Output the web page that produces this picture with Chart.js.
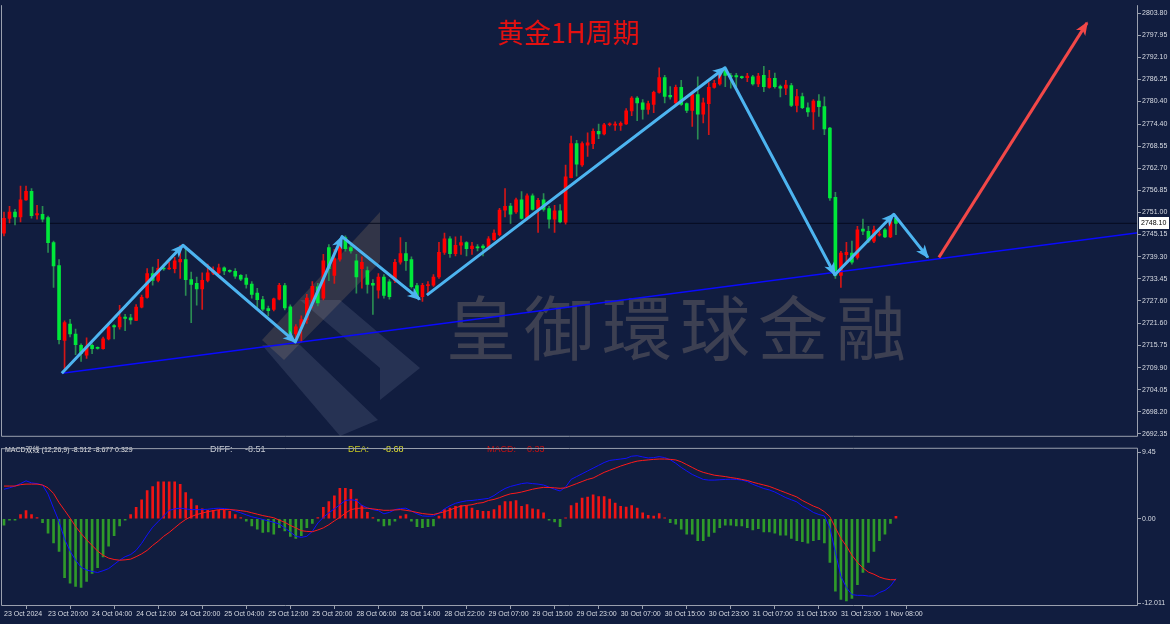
<!DOCTYPE html>
<html><head><meta charset="utf-8">
<script src="https://cdn.jsdelivr.net/npm/chart.js@4.4.1/dist/chart.umd.min.js"></script>
<style>
html,body{margin:0;padding:0;background:#111d3f;width:1170px;height:624px;overflow:hidden}
canvas{position:absolute;left:0}
#main{top:0}
#macd{top:443px}
</style></head><body>
<canvas id="main" width="1170" height="442"></canvas>
<canvas id="macd" width="1170" height="181"></canvas>
<script>
// ---------- DATA ----------
const opens = [2745.5,2749.4,2751.1,2749.8,2754.3,2756.6,2750.3,2750.5,2749.6,2743.0,
2736.9,2717.1,2721.4,2718.8,2715.8,2713.2,2715.8,2715.2,2714.9,2717.5,
2721.0,2720.7,2723.3,2723.1,2722.4,2725.9,2728.5,2734.8,2733.0,2736.2,
2736.0,2736.1,2737.9,2738.5,2733.2,2732.2,2730.7,2733.0,2734.9,2735.0,
2736.3,2735.5,2735.4,2734.3,2733.6,2732.0,2729.6,2727.9,2725.5,2725.3,
2728.0,2731.6,2726.0,2718.8,2720.5,2722.6,2727.0,2731.3,2728.3,2741.7,
2734.3,2738.6,2744.3,2741.7,2738.2,2736.1,2735.6,2732.2,2730.4,2733.9,
2732.6,2733.0,2737.8,2740.1,2738.5,2731.6,2728.7,2731.6,2731.7,2733.9,
2740.4,2744.0,2740.1,2742.3,2743.0,2741.4,2741.8,2742.1,2741.4,2743.8,
2745.1,2751.6,2752.7,2751.1,2754.3,2749.4,2755.4,2752.0,2754.3,2752.0,
2749.2,2751.4,2748.4,2760.2,2769.2,2763.6,2768.8,2769.2,2772.5,2771.8,
2774.2,2774.1,2774.0,2774.4,2777.9,2781.3,2780.0,2778.3,2779.6,2782.8,
2786.7,2782.0,2780.0,2784.1,2779.8,2778.0,2782.2,2777.0,2779.8,2784.1,
2785.0,2789.1,2787.2,2787.2,2786.8,2786.7,2786.9,2785.0,2787.3,2784.1,
2786.5,2784.3,2783.9,2784.6,2779.3,2781.7,2778.7,2777.6,2780.5,2779.0,
2773.3,2755.0,2734.3,2739.8,2740.2,2739.1,2746.6,2746.0,2743.4,2745.0,
2746.4,2744.5,2749.4];
const highs = [2751.1,2752.6,2751.8,2758.0,2758.0,2757.3,2752.9,2752.6,2750.0,2743.4,
2738.5,2722.3,2722.7,2720.1,2716.2,2717.8,2716.2,2715.4,2718.0,2721.4,
2721.3,2726.4,2724.0,2724.0,2726.6,2729.1,2736.1,2736.5,2738.6,2737.3,
2737.8,2739.1,2742.3,2741.2,2735.2,2733.9,2735.0,2737.3,2736.6,2737.3,
2736.6,2735.8,2736.1,2734.5,2734.5,2732.7,2730.9,2728.8,2726.2,2728.3,
2732.2,2732.2,2726.5,2721.3,2723.6,2729.3,2732.7,2732.2,2739.9,2742.5,
2741.2,2743.8,2744.8,2742.3,2739.9,2739.2,2736.6,2733.2,2734.8,2734.5,
2733.2,2738.6,2744.3,2743.1,2739.2,2732.2,2732.2,2732.7,2734.5,2743.1,
2745.5,2744.6,2744.5,2744.7,2743.3,2743.1,2742.5,2742.5,2744.6,2746.4,
2752.1,2757.3,2753.4,2754.8,2756.5,2755.9,2755.9,2754.7,2756.0,2752.6,
2752.9,2753.1,2763.5,2771.2,2770.1,2769.7,2772.1,2773.1,2774.4,2774.6,
2774.7,2775.0,2775.0,2778.5,2781.7,2781.7,2780.9,2780.5,2783.1,2789.3,
2787.3,2784.3,2784.7,2786.0,2780.0,2782.6,2786.9,2781.3,2785.4,2786.0,
2788.8,2789.5,2787.8,2787.8,2787.1,2787.8,2787.3,2787.8,2789.7,2788.6,
2787.9,2784.7,2786.0,2785.2,2783.6,2782.6,2780.0,2780.9,2782.2,2781.6,
2773.5,2756.3,2740.7,2743.1,2743.4,2747.3,2749.2,2747.3,2747.4,2746.0,
2746.8,2749.8,2749.8];
const lows = [2744.8,2748.2,2747.7,2748.5,2754.2,2749.5,2749.2,2748.5,2740.4,2731.1,
2716.2,2709.2,2718.0,2713.3,2711.5,2712.3,2713.6,2714.8,2714.8,2717.2,
2717.5,2720.1,2719.7,2721.4,2722.3,2725.7,2728.3,2731.7,2732.6,2735.6,
2735.9,2735.0,2733.5,2729.0,2721.8,2726.4,2725.3,2732.6,2734.5,2734.8,
2734.5,2735.1,2733.5,2732.9,2730.9,2728.3,2725.7,2724.9,2723.6,2724.9,
2727.8,2725.2,2718.5,2716.7,2716.7,2721.6,2725.7,2726.2,2727.8,2732.9,
2732.2,2738.1,2740.7,2740.2,2729.6,2730.9,2729.6,2724.0,2728.3,2728.3,
2728.0,2732.4,2737.3,2735.6,2730.9,2728.3,2727.4,2729.6,2731.4,2733.5,
2739.9,2739.1,2739.5,2739.9,2739.5,2739.9,2740.8,2739.5,2741.2,2743.6,
2744.8,2749.8,2748.1,2750.7,2749.2,2749.0,2751.6,2745.7,2751.3,2746.8,
2745.7,2748.2,2747.9,2760.1,2760.6,2763.2,2765.8,2767.9,2770.5,2771.5,
2773.9,2772.7,2772.7,2774.3,2776.6,2775.3,2775.7,2777.0,2777.4,2782.6,
2780.0,2781.0,2779.5,2779.3,2777.4,2773.8,2770.4,2774.7,2771.6,2783.9,
2784.7,2784.3,2783.9,2784.3,2786.4,2785.6,2784.7,2784.3,2783.0,2783.9,
2783.9,2781.6,2782.2,2779.0,2777.6,2778.5,2776.4,2773.0,2776.4,2771.6,
2754.2,2733.5,2731.1,2737.8,2737.3,2738.6,2745.1,2743.0,2743.0,2744.7,
2744.3,2744.3,2745.1];
const closes = [2749.4,2751.1,2749.8,2754.3,2756.6,2750.1,2750.7,2749.2,2743.0,2736.8,
2717.3,2721.8,2718.8,2716.0,2713.6,2715.6,2714.9,2715.0,2717.5,2720.7,
2720.7,2723.3,2722.9,2722.5,2725.9,2728.5,2734.8,2733.0,2736.2,2736.0,
2736.2,2738.2,2738.6,2733.2,2731.9,2730.7,2733.0,2735.0,2735.6,2736.3,
2735.5,2735.4,2734.1,2733.3,2731.9,2729.3,2727.9,2725.4,2725.0,2728.1,
2731.7,2725.7,2718.8,2720.7,2722.6,2728.3,2731.4,2727.0,2738.2,2736.1,
2738.8,2742.5,2741.4,2740.8,2733.9,2737.8,2731.9,2731.7,2733.9,2729.0,
2728.7,2737.8,2740.1,2738.2,2731.3,2728.7,2731.7,2731.9,2733.9,2740.4,
2744.0,2740.1,2742.3,2743.0,2741.4,2742.1,2741.6,2741.6,2744.0,2745.5,
2751.6,2752.6,2750.5,2754.3,2749.4,2755.4,2751.8,2754.2,2751.8,2749.2,
2751.4,2748.5,2760.4,2769.2,2763.8,2769.2,2769.4,2772.5,2771.8,2774.2,
2774.4,2774.4,2774.6,2777.9,2781.3,2780.0,2778.3,2779.8,2782.8,2786.7,
2781.7,2781.6,2784.1,2779.6,2778.0,2782.2,2777.0,2780.0,2784.1,2785.2,
2787.6,2787.3,2786.9,2786.9,2786.7,2787.1,2785.0,2787.1,2784.3,2786.5,
2784.3,2783.9,2784.7,2779.3,2781.7,2778.7,2777.6,2780.5,2779.0,2773.1,
2754.8,2734.3,2740.2,2740.4,2737.8,2746.4,2746.0,2743.4,2746.4,2745.2,
2744.5,2748.5,2748.1];

const diffLine = [4.2,4.4,4.65,5.0,5.4,5.1,5.0,4.8,3.5,1.5,
-0.4,-2.9,-4.6,-5.9,-6.9,-7.3,-7.5,-7.65,-7.4,-7.1,
-6.5,-5.9,-5.4,-5.1,-4.5,-3.5,-2.3,-1.2,-0.4,0.4,
1.2,1.4,1.5,1.4,1.3,1.3,1.3,1.35,1.45,1.5,
1.45,1.35,1.1,0.85,0.55,0.28,0.1,-0.1,-0.3,-0.5,
-0.75,-1.3,-1.9,-2.5,-2.65,-2.5,-1.8,-0.6,0.2,0.85,
1.4,2.0,2.6,2.7,2.6,1.9,1.55,1.3,1.15,0.7,
0.9,1.3,1.45,1.5,1.1,0.7,0.4,0.35,0.4,0.8,
1.4,1.85,2.2,2.4,2.55,2.6,2.7,2.8,2.9,3.3,
3.85,4.3,4.6,4.8,5.0,5.1,5.0,4.93,4.8,4.5,
4.2,3.95,4.5,5.6,6.0,6.4,6.8,7.2,7.6,8.0,
8.3,8.4,8.5,8.6,8.9,8.97,8.8,8.65,8.7,8.84,
8.7,8.4,7.9,7.3,6.8,6.3,5.95,5.6,5.5,5.5,
5.55,5.6,5.63,5.6,5.5,5.3,4.9,4.6,4.3,4.1,
3.8,3.4,3.0,2.7,2.4,1.8,1.4,0.9,0.6,0.4,
-1.3,-4.8,-8.2,-9.8,-10.8,-10.9,-10.9,-11.0,-11.0,-10.5,
-10.2,-9.6,-8.51];
const deaLine = [4.65,4.65,4.65,4.85,4.93,4.93,4.93,4.8,4.4,3.6,
2.3,1.2,0.1,-1.1,-2.1,-3.0,-3.8,-4.6,-5.2,-5.6,
-5.8,-5.9,-5.85,-5.75,-5.4,-5.0,-4.5,-3.8,-3.2,-2.5,
-1.95,-1.3,-0.65,-0.1,0.3,0.6,0.8,1.0,1.15,1.3,
1.3,1.3,1.25,1.15,1.05,0.85,0.65,0.45,0.3,0.14,
-0.2,-0.5,-0.95,-1.3,-1.7,-1.8,-1.85,-1.6,-1.3,-0.85,
-0.3,0.2,0.8,1.3,1.45,1.53,1.5,1.4,1.3,1.2,
1.2,1.25,1.3,1.2,1.07,0.9,0.74,0.65,0.6,0.8,
1.0,1.25,1.55,1.8,1.9,2.0,2.2,2.3,2.6,2.75,
3.0,3.3,3.55,3.65,3.8,4.0,4.2,4.35,4.46,4.45,
4.4,4.33,4.4,4.7,5.0,5.3,5.6,5.8,6.2,6.6,
6.9,7.2,7.5,7.75,8.0,8.2,8.3,8.37,8.45,8.5,
8.5,8.45,8.37,8.1,7.7,7.3,6.9,6.6,6.4,6.2,
6.1,6.0,5.86,5.75,5.6,5.45,5.2,5.0,4.8,4.6,
4.3,4.0,3.7,3.4,3.1,2.6,2.2,1.8,1.5,1.0,
0.3,-1.3,-2.8,-3.9,-5.2,-6.2,-7.0,-7.6,-7.9,-8.3,
-8.55,-8.68,-8.68];
const macdHist = [-0.9,-0.2,-0.2,0.6,1.16,0.6,0.15,-0.56,-2.05,-3.44,
-4.65,-8.37,-9.16,-9.63,-9.77,-8.93,-7.77,-6.98,-5.44,-3.9,
-2.42,-1.02,-0.2,0.6,1.63,2.7,4.0,4.56,5.25,5.25,
5.25,5.25,4.88,3.72,2.79,1.86,1.4,1.2,1.2,1.2,
1.2,1.07,0.6,0.15,-0.33,-1.02,-1.49,-1.95,-1.86,-2.19,
-1.26,-1.72,-2.51,-2.79,-2.42,-1.26,-0.65,0.15,1.63,2.46,
3.26,4.33,4.33,4.19,2.79,1.86,0.93,0.15,-0.33,-1.02,
-0.93,-0.33,0.37,0.6,-0.33,-1.12,-1.26,-1.12,-1.02,0.37,
1.3,1.53,1.77,1.86,1.86,1.53,1.2,1.07,1.07,1.3,
1.86,2.46,2.46,2.6,1.77,2.0,1.4,1.3,0.84,-0.19,
-0.47,-1.12,0.14,1.86,2.23,2.93,3.07,3.4,3.16,3.16,
2.79,2.23,1.77,1.67,1.86,1.53,0.84,0.47,0.37,0.74,
0.14,-0.56,-0.79,-1.49,-2.19,-2.19,-3.12,-3.12,-2.51,-1.95,
-1.26,-0.93,-0.93,-1.02,-1.02,-1.26,-1.58,-1.4,-1.86,-1.86,
-2.05,-2.33,-2.33,-2.79,-3.12,-3.26,-3.49,-3.12,-2.98,-3.44,
-6.23,-10.3,-11.49,-11.7,-11.35,-9.4,-7.63,-6.23,-4.65,-3.12,
-2.19,-0.65,0.33];

const timeTickBars = [0,8,16,24,32,40,48,56,64,72,80,88,96,104,112,120,128,136,144,152,160];
const timeLabels = ["23 Oct 2024","23 Oct 20:00","24 Oct 04:00","24 Oct 12:00","24 Oct 20:00","25 Oct 04:00","25 Oct 12:00","25 Oct 20:00","28 Oct 06:00","28 Oct 14:00","28 Oct 22:00","29 Oct 07:00","29 Oct 15:00","29 Oct 23:00","30 Oct 07:00","30 Oct 15:00","30 Oct 23:00","31 Oct 07:00","31 Oct 15:00","31 Oct 23:00","1 Nov 08:00"];
const priceTicks = [2803.80,2797.95,2792.10,2786.25,2780.40,2774.40,2768.55,2762.70,2756.85,2751.00,2745.15,2739.30,2733.45,2727.60,2721.60,2715.75,2709.90,2704.05,2698.20,2692.35];
const macdTicks = [9.45,0,-12.011];
const macdTickLabels = ["9.45","0.00","-12.011"];

// annotation lines (bar index / price)
const trendBars = [10.5,206.0];
const trendPrices = [2708.4,2745.6];
const waveOneBars = [10.5,32.5,52.9,61.4,75.5];
const waveOnePrices = [2708.4,2742.3,2716.7,2744.6,2728.0];
const waveTwoBars = [76.8,130.95,150.9,161.6,167.8];
const waveTwoPrices = [2729.1,2789.3,2734.5,2750.5,2739.1];
const targetBars = [169.8,196.7];
const targetPrices = [2739.1,2801.2];

const titleText = "黄金1H周期";
const watermarkText = "皇御環球金融";
const macdTitle = "MACD双线 (12,26,9) -8.512 -8.677 0.329";
const diffValue = "-8.51", deaValue = "-8.68", macdValue = "0.33";

// ---------- SETUP ----------
Chart.defaults.font.family = "'Liberation Sans', Arial, sans-serif";
const N = opens.length;
const idx = opens.map((_, i) => i);
const X_MIN = -0.7265, X_MAX = 205.96;
const PRICE_MAX = 2805.87, PRICE_MIN = 2691.57;
const MACD_MAX = 10.04, MACD_MIN = -12.42;
const lastClose = closes[N - 1];
const UP_BODY = '#ff0000', DN_BODY = '#00e83a', UP_WICK = '#d41616', DN_WICK = '#2a8c52';
const AXIS_COL = '#9aa0ae', LABEL_COL = '#d8dce4';
const isUp = i => closes[i] >= opens[i];
const pts = (xs, ys) => xs.map((x, k) => ({x, y: ys[k]}));

const makeFrame = (drawTop) => ({
  id: 'frame',
  afterDraw(chart) {
    const a = chart.chartArea, c = chart.ctx;
    c.save(); c.strokeStyle = AXIS_COL; c.lineWidth = 1;
    c.beginPath();
    c.moveTo(a.left + 1.5, a.top); c.lineTo(a.left + 1.5, a.bottom - 0.5);
    c.lineTo(a.right - 0.5, a.bottom - 0.5); c.lineTo(a.right - 0.5, a.top);
    if (drawTop) { c.lineTo(a.left + 1.5, a.top + 0.5); }
    c.stroke();
    c.restore();
  }
});

const arrowPlugin = {
  id: 'arrows',
  afterDatasetsDraw(chart) {
    const c = chart.ctx;
    chart.data.datasets.forEach((ds, di) => {
      if (!ds.arrowHeads) return;
      const el = chart.getDatasetMeta(di).data;
      c.save(); c.fillStyle = ds.borderColor;
      for (let k = 1; k < el.length; k++) {
        const a = el[k - 1], b = el[k];
        const ang = Math.atan2(b.y - a.y, b.x - a.x);
        const L = 12, W = 5.5, ca = Math.cos(ang), sa = Math.sin(ang);
        c.beginPath();
        c.moveTo(b.x + ca * 1.5, b.y + sa * 1.5);
        c.lineTo(b.x - L * ca + W * sa, b.y - L * sa - W * ca);
        c.lineTo(b.x - L * 0.7 * ca, b.y - L * 0.7 * sa);
        c.lineTo(b.x - L * ca - W * sa, b.y - L * sa + W * ca);
        c.closePath(); c.fill();
      }
      c.restore();
    });
  }
};

const decoPlugin = {
  id: 'deco',
  beforeDatasetsDraw(chart) {
    const c = chart.ctx;
    c.save();
    // logo watermark
    c.fillStyle = 'rgba(170,140,105,0.22)';
    c.beginPath(); c.moveTo(380, 212); c.lineTo(380, 262); c.lineTo(284, 360); c.lineTo(262, 340); c.closePath(); c.fill();
    c.fillStyle = 'rgba(185,195,225,0.13)';
    c.beginPath(); c.moveTo(262, 345); c.lineTo(300, 345); c.lineTo(378, 420); c.lineTo(340, 436); c.closePath(); c.fill();
    c.beginPath(); c.moveTo(300, 300); c.lineTo(340, 300); c.lineTo(420, 368); c.lineTo(380, 400); c.lineTo(380, 368); c.closePath(); c.fill();
    // watermark text
    c.fillStyle = 'rgba(165,145,125,0.30)';
    c.font = "70px 'Noto Sans CJK TC','Noto Sans CJK SC'";
    c.textBaseline = 'middle'; c.textAlign = 'left';
    let x = 446;
    for (const ch of watermarkText) { c.fillText(ch, x, 328); x += 78; }
    c.restore();
  },
  afterDraw(chart) {
    const c = chart.ctx, ys = chart.scales.y;
    c.save();
    c.fillStyle = '#e41010';
    c.font = "27px 'Noto Sans CJK SC'";
    c.textBaseline = 'middle'; c.textAlign = 'left';
    c.fillText(titleText, 497, 33);
    // last price box
    const py = Math.round(ys.getPixelForValue(lastClose));
    c.fillStyle = '#ffffff';
    c.fillRect(1139, py - 6, 30, 12);
    c.fillStyle = '#000000';
    c.font = "7px 'Liberation Sans'";
    c.fillText(lastClose.toFixed(2), 1141, py + 0.5);
    c.restore();
  }
};

new Chart(document.getElementById('main'), {
  type: 'bar',
  data: {
    datasets: [
      {type: 'bar', data: idx.map(i => ({x: i, y: [lows[i], highs[i]]})),
       backgroundColor: idx.map(i => isUp(i) ? UP_WICK : DN_WICK),
       barThickness: 1, grouped: false, minBarLength: 1, order: 10},
      {type: 'bar', data: idx.map(i => ({x: i, y: [opens[i], closes[i]]})),
       backgroundColor: idx.map(i => isUp(i) ? UP_BODY : DN_BODY),
       barThickness: 3, grouped: false, minBarLength: 1, order: 9},
      {type: 'line', data: pts([X_MIN, X_MAX], [lastClose, lastClose]),
       borderColor: 'rgba(3,8,26,0.85)', borderWidth: 1, pointRadius: 0, order: 11},
      {type: 'line', data: pts(trendBars, trendPrices),
       borderColor: '#0a0aff', borderWidth: 1.6, pointRadius: 0, order: 5},
      {type: 'line', data: pts(waveOneBars, waveOnePrices), arrowHeads: true,
       borderColor: '#4db4f0', borderWidth: 3, pointRadius: 0, borderJoinStyle: 'round', order: 2},
      {type: 'line', data: pts(waveTwoBars, waveTwoPrices), arrowHeads: true,
       borderColor: '#4db4f0', borderWidth: 3, pointRadius: 0, borderJoinStyle: 'round', order: 2},
      {type: 'line', data: pts(targetBars, targetPrices), arrowHeads: true,
       borderColor: '#f24848', borderWidth: 3, pointRadius: 0, order: 1}
    ]
  },
  options: {
    responsive: false, animation: false, events: [],
    layout: {padding: 0, autoPadding: false},
    plugins: {legend: {display: false}, tooltip: {enabled: false}},
    scales: {
      x: {type: 'linear', min: X_MIN, max: X_MAX, display: false, offset: false},
      y: {position: 'right', min: PRICE_MIN, max: PRICE_MAX,
          afterFit(s) { s.width = 32; },
          afterBuildTicks(s) { s.ticks = priceTicks.map(v => ({value: v})); },
          ticks: {callback: v => Number(v).toFixed(2), color: LABEL_COL, font: {size: 7}, padding: 1, autoSkip: false},
          grid: {drawOnChartArea: false, drawTicks: true, tickLength: 3, color: AXIS_COL},
          border: {display: false}}
    }
  },
  plugins: [decoPlugin, arrowPlugin, makeFrame(false)]
});

const macdTextPlugin = {
  id: 'macdText',
  afterDraw(chart) {
    const c = chart.ctx;
    c.save(); c.textBaseline = 'middle'; c.textAlign = 'left';
    c.fillStyle = '#e8e8e8';
    c.font = "7px 'Liberation Sans','Noto Sans CJK SC'";
    c.fillText(macdTitle, 5, 7);
    c.font = "9px 'Liberation Sans'";
    c.fillStyle = '#c8ccd4'; c.fillText('DIFF:', 210, 7); c.fillText(diffValue, 245, 7);
    c.fillStyle = '#c8c820'; c.fillText('DEA:', 348, 7); c.fillStyle = '#e0e030'; c.fillText(deaValue, 383, 7);
    c.fillStyle = '#c81010'; c.fillText('MACD:', 487, 7); c.fillText(macdValue, 527, 7);
    c.restore();
  }
};

new Chart(document.getElementById('macd'), {
  type: 'bar',
  data: {
    datasets: [
      {type: 'bar', data: idx.map(i => ({x: i, y: macdHist[i]})),
       backgroundColor: idx.map(i => macdHist[i] >= 0 ? '#f01414' : '#2f9a2a'),
       barThickness: 2, grouped: false, minBarLength: 1, order: 5},
      {type: 'line', data: idx.map(i => ({x: i, y: diffLine[i]})),
       borderColor: '#1010ff', borderWidth: 1, pointRadius: 0, order: 2},
      {type: 'line', data: idx.map(i => ({x: i, y: deaLine[i]})),
       borderColor: '#ff1a1a', borderWidth: 1, pointRadius: 0, order: 1}
    ]
  },
  options: {
    responsive: false, animation: false, events: [],
    layout: {padding: {top: 2, left: 0, right: 0, bottom: 0}, autoPadding: false},
    plugins: {legend: {display: false}, tooltip: {enabled: false}},
    scales: {
      x: {type: 'linear', min: X_MIN, max: X_MAX, offset: false,
          afterFit(s) { s.height = 18; },
          afterBuildTicks(s) { s.ticks = timeTickBars.map(v => ({value: v})); },
          ticks: {callback: (v, i) => timeLabels[i], align: 'start', maxRotation: 0, autoSkip: false,
                  color: LABEL_COL, font: {size: 7}, padding: 1},
          grid: {drawOnChartArea: false, drawTicks: true, tickLength: 3, color: AXIS_COL},
          border: {display: false}},
      y: {position: 'right', min: MACD_MIN, max: MACD_MAX,
          afterFit(s) { s.width = 32; },
          afterBuildTicks(s) { s.ticks = macdTicks.map(v => ({value: v})); },
          ticks: {callback: (v, i) => macdTickLabels[i], color: LABEL_COL, font: {size: 7}, padding: 1, autoSkip: false},
          grid: {drawOnChartArea: false, drawTicks: true, tickLength: 3, color: AXIS_COL},
          border: {display: false}}
    }
  },
  plugins: [macdTextPlugin, makeFrame(true)]
});
</script>
</body></html>
